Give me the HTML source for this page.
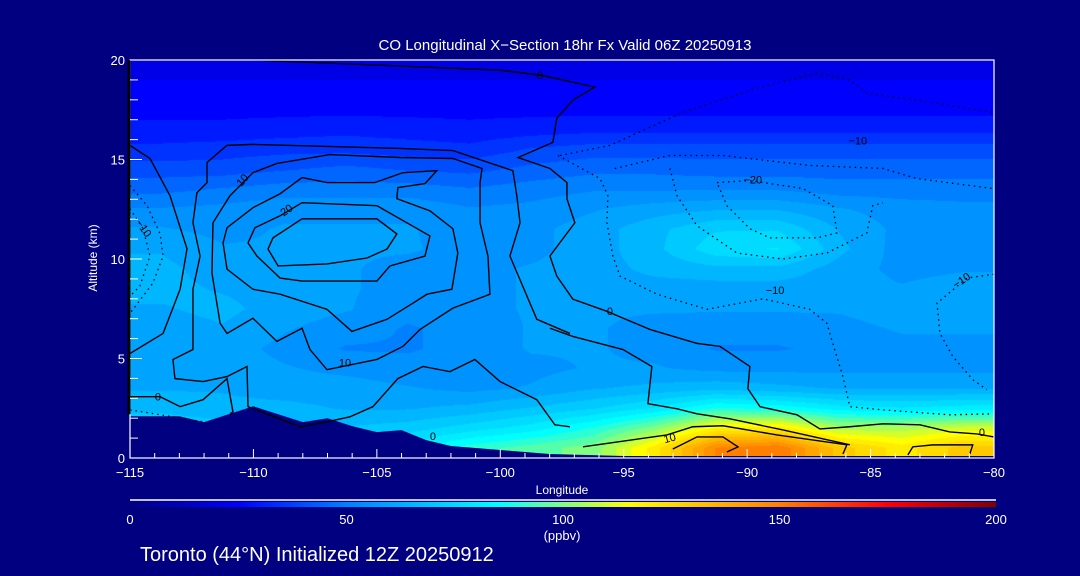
<!DOCTYPE html>
<html><head><meta charset="utf-8">
<style>
html,body{margin:0;padding:0;background:#000080;width:1080px;height:576px;overflow:hidden}
#hm{position:absolute;left:130px;top:60px}
#ov{position:absolute;left:0;top:0}
text{font-family:"Liberation Sans",sans-serif;fill:#fff}
</style></head>
<body>
<canvas id="hm" width="864" height="398"></canvas>
<svg id="ov" width="1080" height="576">
<defs><linearGradient id="cbg" x1="0" x2="1" y1="0" y2="0"></linearGradient></defs>
<g id="terrain"></g>
<g id="contours"></g>
<g id="clabels"></g>
<g id="axes"></g>
<text x="565" y="50" font-size="15" text-anchor="middle">CO Longitudinal X&#8722;Section 18hr  Fx Valid 06Z 20250913</text>
<text x="562" y="494" font-size="12" text-anchor="middle">Longitude</text>
<text transform="translate(97,258) rotate(-90)" font-size="12" text-anchor="middle">Altitude (km)</text>
<line x1="130" x2="996" y1="500" y2="500" stroke="#fff" stroke-width="1.5"/>
<rect x="130" y="502" width="866" height="5" fill="url(#cbg)"/>
<g id="cbticks"></g>
<text x="562" y="540" font-size="13" text-anchor="middle">(ppbv)</text>
<text x="140" y="561" font-size="20">Toronto (44°N) Initialized 12Z 20250912</text>
</svg>
<script>
// ---- data ----
const lonCenters=[-113.75,-111.25,-108.75,-106.25,-103.75,-101.25,-98.75,-96.25,-93.75,-91.25,-88.75,-86.25,-83.75,-81.25];
const altCenters=[19.5,18.5,17.5,16.5,15.5,14.5,13.5,12.5,11.5,10.5,9.5,8.5,7.5,6.5,5.5,4.5,3.5,2.5,1.5,0.5];
const coValues=[
[22,22,22,22,22,22,22,22,22,22,22,22,22,22],
[23,23,23,23,23,23,23,23,23,23,23,23,23,23],
[26,26,26,26,26,26,26,26,26,26,26,26,26,26],
[29,29,30,31,30,29,30,31,31,31,31,31,31,31],
[34,35,36,36,35,34,38,40,40,40,40,40,40,40],
[40,40,42,44,42,41,44,46,46,45,45,45,45,45],
[46,48,50,50,50,48,50,52,52,52,52,50,50,50],
[53,54,56,56,56,53,54,57,60,62,62,58,55,54],
[58,56,58,58,58,55,56,60,66,72,72,62,56,55],
[62,58,58,58,58,56,56,60,66,76,78,64,55,55],
[64,60,60,58,56,56,58,60,64,66,66,60,56,57],
[64,62,60,58,56,56,58,60,60,60,60,60,58,60],
[62,64,60,58,54,56,58,58,58,58,58,58,60,60],
[60,62,58,55,52,54,58,58,56,55,55,56,58,58],
[60,60,56,52,52,54,58,58,56,52,52,54,56,56],
[60,60,58,56,54,54,56,58,58,56,56,56,56,56],
[62,62,60,60,58,56,58,62,64,66,64,62,62,62],
[66,64,64,62,62,64,68,72,78,88,86,80,78,80],
[72,70,68,68,70,75,80,88,100,118,120,105,105,110],
[80,78,76,76,80,90,95,100,120,148,152,130,120,130]];
const terrainLon=[-115,-113,-112,-110,-108,-107,-106,-105,-104,-103,-102,-100,-98,-95,-90,-85,-80];
const terrainAlt=[2.1,2.1,1.8,2.6,1.8,2.0,1.6,1.3,1.4,0.9,0.6,0.4,0.2,0.1,0.1,0.1,0.1];
const xTicks=[-115,-110,-105,-100,-95,-90,-85,-80];
const yTicks=[0,5,10,15,20];
const cbTicks=[0,50,100,150,200];
const solidContours=[
[[-108.03,12.02],[-105.0,12.02],[-104.19,11.26],[-104.59,10.5],[-105.4,10.05],[-107.02,9.75],[-109.0,9.65],[-109.41,10.5],[-109.21,11.06],[-108.03,12.02]],
[[-108.03,12.83],[-105.0,12.68],[-102.85,11.16],[-103.05,10.15],[-104.47,9.65],[-105.0,8.89],[-108.03,8.89],[-108.92,9.04],[-109.86,10.15],[-110.22,10.81],[-109.94,11.57],[-108.92,12.17],[-108.03,12.83]],
[[-108.03,14.09],[-107.02,13.84],[-105.08,13.84],[-103.94,14.34],[-102.57,14.44],[-103.05,13.79],[-104.15,13.59],[-104.19,13.03],[-102.85,12.42],[-101.92,11.52],[-101.72,10.3],[-101.96,8.48],[-102.97,8.23],[-103.54,7.78],[-104.59,6.97],[-106.01,6.36],[-107.02,7.47],[-108.92,8.23],[-110.02,8.48],[-111.07,9.49],[-111.23,10.81],[-111.07,11.57],[-110.02,12.58],[-108.92,13.28],[-108.03,14.09]],
[[-110.02,14.34],[-110.95,13.18],[-111.64,11.82],[-111.68,9.29],[-111.35,6.77],[-111.07,6.26],[-110.02,7.02],[-109.05,5.86],[-108.03,6.52],[-107.71,5.45],[-107.02,4.44],[-105.0,4.95],[-103.94,5.61],[-103.25,6.46],[-101.92,7.53],[-100.42,8.23],[-100.5,10.15],[-100.82,11.82],[-100.82,13.84],[-100.74,14.55],[-101.92,15.05],[-104.06,15.1],[-106.9,15.25],[-109.05,14.8],[-110.02,14.34]],
[[-115,15.71],[-114.19,15.05],[-113.38,13.18],[-112.69,10.51],[-112.97,8.48],[-113.66,6.26],[-115,5.25]],
[[-97.18,6.26],[-98.52,6.97],[-99.61,10.15],[-99.2,11.82],[-99.33,13.18],[-99.49,14.44],[-101.92,15.45],[-104.19,15.56],[-110.02,15.76],[-111.07,15.71],[-111.88,14.85],[-111.88,13.84],[-112.29,13.33],[-112.45,11.82],[-112.16,10.15],[-112.45,8.48],[-112.45,5.45],[-113.26,4.95],[-113.18,3.99],[-112.04,3.84],[-111.07,4.09],[-110.26,4.6],[-110.22,2.58],[-108.11,1.57],[-107.02,1.82],[-106.09,2.07],[-105.16,2.58],[-104.15,3.99],[-103.13,4.6],[-102.04,4.34],[-101.03,4.95],[-100.01,3.84],[-98.52,2.93],[-97.79,1.67],[-97.18,1.57]],
[[-110.02,20],[-100.01,19.49],[-98.39,19.24],[-96.17,18.64],[-97.06,17.98],[-97.71,17.07],[-97.87,15.86],[-99.28,15.1],[-97.99,14.55],[-97.30,13.84],[-97.30,13.03],[-96.98,11.82],[-97.99,10.15],[-97.71,9.14],[-97.06,7.98],[-95.68,7.37],[-93.94,6.46],[-92.03,5.76],[-91.10,5.61],[-89.89,4.6],[-89.97,3.48],[-89.48,2.58],[-87.98,2.17],[-87.05,1.46],[-85.84,1.57],[-84.50,1.72],[-83.0,1.67],[-81.79,1.31],[-80.69,1.21],[-80.0,1.06]],
[[-97.99,6.52],[-97.06,6.11],[-95.03,5.45],[-93.86,4.6],[-94.02,2.73],[-92.84,2.47],[-92.03,2.22],[-90.70,1.97],[-88.55,1.41],[-85.84,0.66]],
[[-96.65,0.56],[-93.25,1.16],[-92.20,1.57],[-90.98,1.62],[-88.79,1.16],[-85.96,0.66],[-86.12,0.2]],
[[-93.01,0.45],[-92.03,1.06],[-90.98,1.06],[-90.37,0.56],[-90.82,0.3]],
[[-83.49,0.15],[-83.29,0.56],[-82.48,0.66],[-80.86,0.66],[-80.98,0.2]],
[[-115,3.08],[-113.78,3.08],[-112.97,2.58],[-112.04,2.93],[-111.07,3.99],[-110.83,2.32],[-110.95,2.22]]];
const dottedContours=[
[[-97.58,15.2],[-95.56,15.71],[-92.60,17.37],[-89.60,18.59],[-87.17,19.34],[-85.84,18.99],[-85.15,18.33],[-83.12,17.98],[-80.04,17.37]],
[[-97.66,15.2],[-95.96,14.04],[-95.64,13.18],[-95.68,11.82],[-95.44,10.15],[-95.15,9.14],[-93.65,8.23],[-91.63,7.47],[-89.36,8.0],[-87.46,7.47],[-86.77,6.77],[-86.53,5.76],[-86.12,4.09],[-85.84,2.58],[-84.50,2.42],[-81.79,2.17],[-80.04,2.22]],
[[-95.36,14.55],[-93.13,15.2],[-90.98,15.2],[-87.46,14.7],[-84.50,14.55],[-83.12,14.04],[-80.04,13.54]],
[[-91.22,13.84],[-89.89,13.94],[-87.74,13.54],[-86.53,12.68],[-86.36,11.31],[-87.17,11.06],[-89.08,11.06],[-89.89,11.52],[-90.82,12.68],[-91.22,13.84]],
[[-93.13,14.55],[-92.84,13.18],[-92.03,11.67],[-90.41,10.3],[-88.55,10.0],[-86.77,10.3],[-85.15,11.31],[-84.91,12.68],[-84.50,12.83]],
[[-80,9.24],[-81.10,9.04],[-82.31,7.78],[-82.19,6.26],[-81.67,5.1],[-80.86,3.94],[-80.29,3.43]],
[[-115,13.69],[-114.31,12.68],[-113.78,11.26],[-113.66,10.15],[-114.07,8.79],[-115,7.27]],
[[-115,12.53],[-114.47,11.52],[-114.19,10.15],[-114.6,8.64],[-115,8.13]],
[[-115,2.42],[-112.04,1.82]]];
const contourLabels=[[-113.87,3.03,"0",0],[-98.39,19.19,"0",0],[-110.42,13.94,"10",-50],[-108.64,12.42,"20",-35],[-106.29,4.75,"10",0],[-102.73,1.06,"0",0],[-93.13,0.96,"10",-15],[-95.56,7.32,"0",0],[-85.52,15.91,"−10",0],[-89.77,13.94,"−20",0],[-88.87,8.38,"−10",0],[-81.30,8.89,"−10",-35],[-80.49,1.26,"0",0],[-114.47,11.52,"−10",55]];

// ---- scales ----
const X0=130,X1=994,Y0=458,Y1=60,LON0=-115,LON1=-80,ALT1=20;
const xs=l=>X0+(l-LON0)/(LON1-LON0)*(X1-X0);
const ys=a=>Y0-a/ALT1*(Y0-Y1);
const stops=[[0,[0,0,128]],[25,[0,0,255]],[50,[0,128,255]],[85,[0,255,255]],[100,[128,255,128]],[115,[255,255,0]],[150,[255,128,0]],[175,[255,0,0]],[200,[128,0,0]]];
function cmap(v){v=Math.max(0,Math.min(200,v));for(let i=1;i<stops.length;i++){if(v<=stops[i][0]){const a=stops[i-1],b=stops[i],t=(v-a[0])/(b[0]-a[0]);return a[1].map((c,k)=>Math.round(c+(b[1][k]-c)*t));}}return stops[stops.length-1][1];}
function interp(arr,v){
  if(arr[0]<arr[arr.length-1]){if(v<=arr[0])return 0;if(v>=arr[arr.length-1])return arr.length-1;for(let i=1;i<arr.length;i++)if(v<=arr[i])return i-1+(v-arr[i-1])/(arr[i]-arr[i-1]);}
  else{if(v>=arr[0])return 0;if(v<=arr[arr.length-1])return arr.length-1;for(let i=1;i<arr.length;i++)if(v>=arr[i])return i-1+(arr[i-1]-v)/(arr[i-1]-arr[i]);}
  return 0;}
const cv=document.getElementById('hm'),ctx=cv.getContext('2d');
const W=cv.width,H=cv.height,img=ctx.createImageData(W,H);
const colIdx=[];for(let px=0;px<W;px++){colIdx.push(interp(lonCenters,LON0+(px+0.5)/W*(LON1-LON0)));}
for(let py=0;py<H;py++){const alt=ALT1*(1-(py+0.5)/H);const ri=interp(altCenters,alt);const r0=Math.floor(ri),r1=Math.min(r0+1,altCenters.length-1),rt=ri-r0;
 for(let px=0;px<W;px++){const ci=colIdx[px],c0=Math.floor(ci),c1=Math.min(c0+1,lonCenters.length-1),ct=ci-c0;
  let v=(coValues[r0][c0]*(1-ct)+coValues[r0][c1]*ct)*(1-rt)+(coValues[r1][c0]*(1-ct)+coValues[r1][c1]*ct)*rt;
  v=Math.round(v/5)*5;
  const c=cmap(v),o=(py*W+px)*4;img.data[o]=c[0];img.data[o+1]=c[1];img.data[o+2]=c[2];img.data[o+3]=255;}}
ctx.putImageData(img,0,0);
const NS='http://www.w3.org/2000/svg';
function mk(tag,attrs,parent){const e=document.createElementNS(NS,tag);for(const k in attrs)e.setAttribute(k,attrs[k]);parent.appendChild(e);return e;}
let tp=terrainLon.map((l,i)=>xs(l)+','+ys(terrainAlt[i])).join(' ');
tp+=' '+xs(LON1)+','+Y0+' '+xs(LON0)+','+Y0;
const terr=mk('polygon',{points:tp,fill:'#000080'},document.getElementById('terrain'));


const cg=document.getElementById('contours');
solidContours.forEach((c,i)=>{const p=mk('polyline',{points:c.map(q=>xs(q[0])+','+ys(q[1])).join(' '),fill:'none',stroke:'#000','stroke-width':1.4},cg);
 
 });
dottedContours.forEach((c,i)=>{const p=mk('polyline',{points:c.map(q=>xs(q[0])+','+ys(q[1])).join(' '),fill:'none',stroke:'#000','stroke-width':1.3,'stroke-dasharray':'1.5 4'},cg);
 
 });
const lg=document.getElementById('clabels');
contourLabels.forEach(l=>{const t=mk('text',{x:0,y:0,'font-size':11,'text-anchor':'middle','dominant-baseline':'middle',transform:'translate('+xs(l[0])+','+ys(l[1])+') rotate('+l[3]+')'},lg);
 t.style.fill='#000';t.textContent=l[2];
 
 });
const ag=document.getElementById('axes');
mk('rect',{x:X0,y:Y1,width:X1-X0,height:Y0-Y1,fill:'none',stroke:'#fff','stroke-width':1.2},ag);
mk('line',{x1:129,x2:129,y1:Y1,y2:ys(2.2),stroke:'#000','stroke-width':3},ag);
for(let l=LON0;l<=LON1;l++){const major=(l%5===0);mk('line',{x1:xs(l),x2:xs(l),y1:Y0,y2:Y0-(major?9:5),stroke:'#fff','stroke-width':1},ag);}
for(let a=0;a<=ALT1;a++){const major=(a%5===0);mk('line',{x1:X0,x2:X0+(major?12:8),y1:ys(a),y2:ys(a),stroke:'#fff','stroke-width':1},ag);}
xTicks.forEach(v=>{const t=mk('text',{x:xs(v),y:Y0+19,'font-size':13,'text-anchor':'middle'},ag);t.textContent=(v<0?'−':'')+Math.abs(v);
 
 });
yTicks.forEach(v=>{const t=mk('text',{x:125,y:ys(v)+5,'font-size':13,'text-anchor':'end'},ag);t.textContent=v;
 
 });
const grad=document.getElementById('cbg');
stops.forEach(s=>{mk('stop',{offset:(s[0]/200*100)+'%','stop-color':'rgb('+s[1].join(',')+')'},grad);});
const cbg=document.getElementById('cbticks');
cbTicks.forEach(v=>{const t=mk('text',{x:130+v/200*866,y:524,'font-size':13,'text-anchor':'middle'},cbg);t.textContent=v;
 
 });
</script>
</body></html>
